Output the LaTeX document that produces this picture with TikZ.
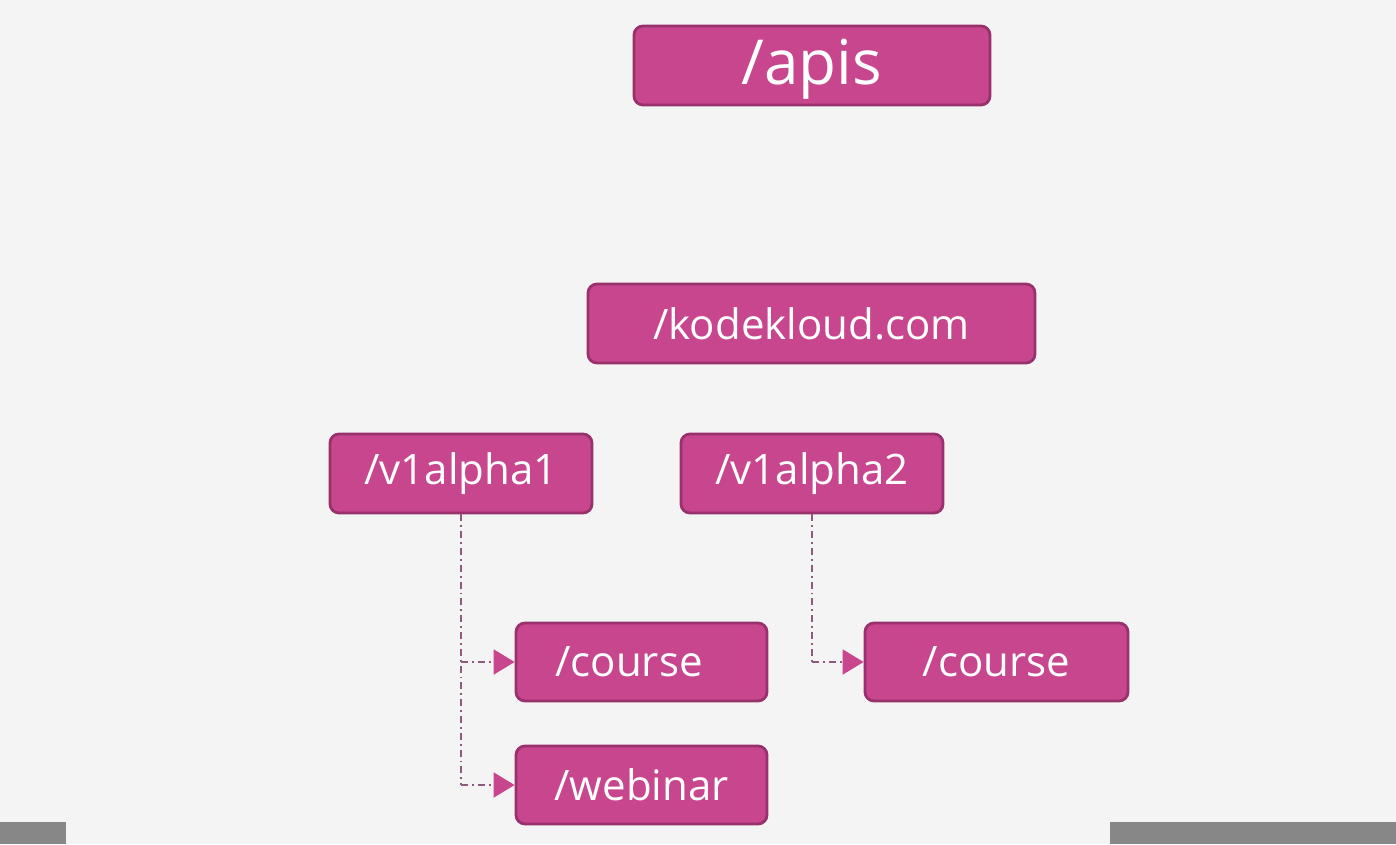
\documentclass[tikz,border=0pt]{standalone}
\usepackage{fontspec}
\setmainfont{Open Sans}
\usetikzlibrary{arrows.meta}
\definecolor{bg}{HTML}{F4F4F4}
\definecolor{boxfill}{HTML}{C7468D}
\definecolor{boxedge}{HTML}{98316C}
\definecolor{linec}{HTML}{8E5A7E}
\definecolor{barc}{HTML}{878787}
\tikzset{
  pbox/.style={draw=boxedge, line width=2.8pt, fill=boxfill, rounded corners=9pt,
    text=white, inner sep=0pt, anchor=center, font=\fontsize{42}{50}\selectfont},
  conn/.style={draw=linec, line width=1.9pt, dash pattern=on 7pt off 4pt on 1.8pt off 4pt},
  tip/.style={-{Triangle[length=21pt,width=25pt,fill=boxfill,color=boxfill]}}
}
\begin{document}
\begin{tikzpicture}[x=1pt,y=-1pt]
\fill[bg] (0,0) rectangle (1396,844);
\useasboundingbox (0,0) rectangle (1396,844);
\fill[barc] (0,822) rectangle (66,844);
\fill[barc] (1110,822) rectangle (1396,844);

\node[pbox, minimum width=356pt, minimum height=79pt] (apis) at (812,65.5) {};
\node[text=white, font=\fontsize{62}{70}\selectfont, inner sep=0pt] (apist) at (812,69) {/apis};
\node[pbox, minimum width=447pt, minimum height=79pt] (kk) at (811.5,323.5) {/kodekloud.com};
\node[pbox, minimum width=262pt, minimum height=79pt] (va1) at (461,473.5) {/v1alpha1};
\node[pbox, minimum width=262pt, minimum height=79pt] (va2) at (812,473.5) {/v1alpha2};
\node[pbox, minimum width=251pt, minimum height=78pt] (c1) at (641.5,662) {};
\node[text=white, font=\fontsize{42}{50}\selectfont, inner sep=0pt] (c1t) at (629,662) {/course};
\node[pbox, minimum width=251pt, minimum height=78pt] (web) at (641.5,785) {/webinar};
\node[pbox, minimum width=263pt, minimum height=78pt] (c2) at (996.5,662) {/course};

\coordinate (b1) at (461,662);
\coordinate (b2) at (461,785);
\coordinate (b3) at (812,662);
\draw[conn] (va1.south) -- (b2);
\draw[conn, tip] (b1) -- (c1.west);
\draw[conn, tip] (b2) -- (web.west);
\draw[conn] (va2.south) -- (b3);
\draw[conn, tip] (b3) -- (c2.west);
\end{tikzpicture}
\end{document}
